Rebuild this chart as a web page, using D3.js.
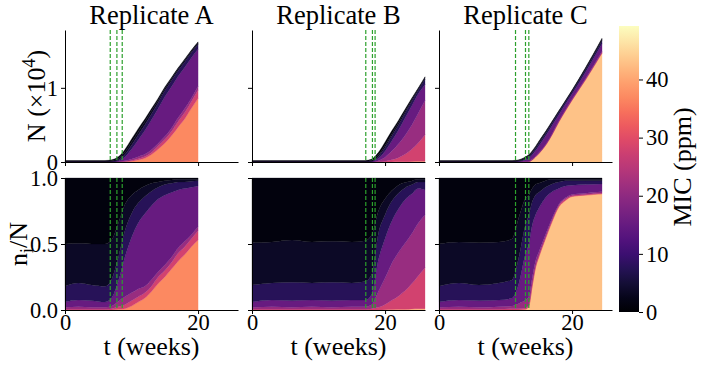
<!DOCTYPE html>
<html>
<head>
<meta charset="utf-8">
<script src="https://cdn.jsdelivr.net/npm/d3@7"></script>
<style>
  body { margin: 0; background: #fff; }
</style>
</head>
<body>
<div id="chart"></div>
<script>
// MIC level of each subpopulation, stacked bottom (high) to top (low)
const micLevels = [43, 37, 28, 21, 15, 7.5, 3.5, 1.2];
const micMax = 49.2;

// Replicate A
const weeksA = [0, 2, 4, 6, 7, 8, 9, 10, 11, 12, 13, 14, 15, 16, 17, 18, 19, 20];
const totalA = [0.02, 0.02, 0.02, 0.02, 0.03, 0.07, 0.17, 0.31, 0.45, 0.58, 0.72, 0.86, 1.01, 1.14, 1.27, 1.39, 1.51, 1.62];
const sharesA = [
  [0, 0, .005, .015, .04, .12, .32, .50],
  [0, 0, .005, .02, .05, .13, .30, .495],
  [0, 0, .005, .015, .05, .12, .31, .50],
  [0, 0, .005, .015, .04, .12, .32, .50],
  [0, 0, .01, .02, .06, .14, .30, .47],
  [0, .005, .02, .04, .15, .18, .26, .345],
  [0, .01, .03, .06, .30, .20, .20, .20],
  [0, .03, .04, .06, .42, .18, .14, .13],
  [0, .06, .04, .06, .50, .15, .10, .09],
  [0, .09, .04, .05, .55, .13, .08, .06],
  [0, .14, .04, .05, .56, .11, .06, .04],
  [0, .20, .05, .04, .55, .09, .04, .03],
  [0, .25, .05, .04, .53, .08, .03, .02],
  [0, .31, .05, .04, .49, .07, .025, .015],
  [0, .37, .06, .04, .44, .06, .02, .01],
  [0, .42, .06, .04, .40, .05, .02, .01],
  [0, .48, .06, .03, .36, .045, .015, .01],
  [0, .53, .07, .03, .31, .04, .01, .01]
];
const switchesA = [6.8, 7.8, 8.6];

// Replicate B
const weeksB = [0, 3, 6, 9, 12, 15, 17, 18, 19, 20, 21, 22, 23, 24, 25, 26];
const totalB = [0.02, 0.02, 0.02, 0.02, 0.02, 0.02, 0.02, 0.04, 0.13, 0.27, 0.42, 0.56, 0.71, 0.86, 1.0, 1.15];
const sharesB = [
  [0, 0, .005, .015, .04, .13, .32, .49],
  [0, 0, .005, .02, .05, .13, .31, .485],
  [0, 0, .005, .015, .05, .14, .32, .47],
  [0, 0, .005, .02, .05, .13, .31, .485],
  [0, 0, .005, .015, .05, .14, .31, .48],
  [0, 0, .005, .02, .05, .13, .31, .485],
  [0, 0, .005, .02, .05, .14, .31, .475],
  [0, 0, .01, .03, .08, .15, .30, .43],
  [0, 0, .02, .12, .24, .20, .17, .25],
  [.002, 0, .04, .20, .30, .18, .12, .158],
  [.003, 0, .07, .28, .32, .15, .08, .097],
  [.005, 0, .10, .33, .33, .12, .06, .055],
  [.005, 0, .14, .36, .33, .09, .04, .035],
  [.008, 0, .19, .38, .30, .07, .03, .022],
  [.01, 0, .25, .40, .26, .05, .02, .01],
  [.01, 0, .31, .40, .19, .06, .02, .01]
];
const switchesB = [17.1, 18.1, 18.5];

// Replicate C
const weeksC = [0, 3, 6, 9, 11, 12, 13, 13.5, 14, 14.5, 15, 16, 17, 18, 19, 20, 22, 24.5];
const totalC = [0.02, 0.02, 0.02, 0.02, 0.02, 0.03, 0.07, 0.10, 0.15, 0.21, 0.28, 0.41, 0.55, 0.69, 0.83, 0.97, 1.27, 1.67];
const sharesC = [
  [0, 0, .005, .015, .04, .12, .32, .50],
  [0, 0, .005, .02, .05, .13, .31, .485],
  [0, 0, .005, .015, .05, .12, .32, .49],
  [0, 0, .005, .02, .05, .13, .31, .485],
  [0, 0, .01, .02, .06, .14, .31, .46],
  [0, 0, .01, .04, .15, .20, .30, .30],
  [.005, 0, .01, .06, .35, .22, .20, .155],
  [.03, 0, .01, .06, .40, .22, .15, .13],
  [.18, 0, .01, .05, .40, .18, .10, .08],
  [.32, 0, .01, .04, .35, .15, .08, .05],
  [.40, 0, .01, .03, .33, .12, .07, .04],
  [.54, 0, .01, .02, .28, .08, .05, .02],
  [.67, 0, .01, .015, .20, .06, .035, .01],
  [.78, 0, .01, .01, .12, .05, .02, .01],
  [.83, 0, .01, .01, .09, .04, .01, .01],
  [.86, 0, .005, .01, .07, .035, .01, .01],
  [.87, 0, .005, .01, .065, .03, .01, .01],
  [.88, 0, .005, .01, .06, .025, .01, .01]
];
const switchesC = [11.5, 13.0, 13.5];

const replicates = [
  { name: "Replicate A", weeks: weeksA, total: totalA, shares: sharesA, switches: switchesA },
  { name: "Replicate B", weeks: weeksB, total: totalB, shares: sharesB, switches: switchesB },
  { name: "Replicate C", weeks: weeksC, total: totalC, shares: sharesC, switches: switchesC }
];

const xTicks = [0, 20];
const nTicks = [0, 1];
const fracTicks = [0, 0.5, 1];
const micTicks = [0, 10, 20, 30, 40];

// Pick the first serif face that is really installed (Times look-alike)
function pickFont(candidates) {
  const ctx = document.createElement("canvas").getContext("2d");
  const sample = "Replicate ABC 0123 (weeks) MIC";
  for (const f of candidates) {
    for (const base of ["monospace", "sans-serif"]) {
      ctx.font = `40px ${base}`;
      const w0 = ctx.measureText(sample).width;
      ctx.font = `40px "${f}", ${base}`;
      if (Math.abs(ctx.measureText(sample).width - w0) > 0.5) return `"${f}", serif`;
    }
  }
  return "serif";
}
const fontFamily = pickFont(["Liberation Serif", "Times New Roman", "Tinos", "Nimbus Roman",
  "Nimbus Roman No9 L", "FreeSerif", "DejaVu Serif", "Noto Serif"]);

// Layout
const width = 702, height = 365;
const panelLeft = [65, 252, 439];
const panelW = 173;
const topRange = [162, 30];
const botRange = [310, 178];
const tickFont = 22.5, labelFont = 26, titleFont = 26.5;

const svg = d3.select("#chart").append("svg")
  .attr("width", width).attr("height", height)
  .style("font-family", fontFamily);

const x = d3.scaleLinear().domain([0, 26]).range([0, panelW]);
const yN = d3.scaleLinear().domain([0, 1.78]).range(topRange);
const yF = d3.scaleLinear().domain([0, 1]).range(botRange);
const color = d3.scaleSequential(d3.interpolateMagma).domain([0, micMax]);

const keys = micLevels.map((m, i) => i);

function styleAxis(g) {
  g.attr("font-family", null).attr("font-size", null);
  g.select(".domain").attr("stroke", "#000").attr("stroke-width", 1);
  g.selectAll(".tick line").attr("stroke", "#000").attr("stroke-width", 1);
  g.selectAll(".tick text").style("font-size", tickFont + "px")
    .style("font-family", fontFamily).attr("fill", "#000");
}

replicates.forEach((rep, p) => {
  const g = svg.append("g").attr("transform", `translate(${panelLeft[p]},0)`);

  // rows of records for stacking
  const fracRows = rep.weeks.map((w, j) => {
    const r = { week: w };
    keys.forEach(k => r[k] = rep.shares[j][k]);
    return r;
  });
  const countRows = rep.weeks.map((w, j) => {
    const r = { week: w };
    keys.forEach(k => r[k] = rep.shares[j][k] * rep.total[j]);
    return r;
  });

  const stack = d3.stack().keys(keys);

  const areaN = d3.area().curve(d3.curveMonotoneX)
    .x(d => x(d.data.week)).y0(d => yN(d[0])).y1(d => yN(d[1]));
  const areaF = d3.area().curve(d3.curveMonotoneX)
    .x(d => x(d.data.week)).y0(d => yF(d[0])).y1(d => yF(d[1]));

  g.append("g").selectAll("path")
    .data(stack(countRows))
    .join("path")
    .attr("fill", d => color(micLevels[d.key]))
    .attr("stroke", d => color(micLevels[d.key]))
    .attr("stroke-width", 0.3)
    .attr("d", areaN);

  g.append("g").selectAll("path")
    .data(stack(fracRows))
    .join("path")
    .attr("fill", d => color(micLevels[d.key]))
    .attr("stroke", d => color(micLevels[d.key]))
    .attr("stroke-width", 0.3)
    .attr("d", areaF);

  // switch lines
  [[topRange[1], topRange[0]], [botRange[1], botRange[0]]].forEach(([y0, y1]) => {
    g.append("g").selectAll("line")
      .data(rep.switches)
      .join("line")
      .attr("x1", d => x(d)).attr("x2", d => x(d))
      .attr("y1", y0).attr("y2", y1)
      .attr("stroke", "#2ca02c")
      .attr("stroke-width", 1.2)
      .attr("stroke-dasharray", "4,2");
  });

  // axes: top row
  const axTopX = g.append("g").attr("transform", `translate(0,${topRange[0]})`)
    .call(d3.axisBottom(x).tickValues(xTicks).tickSize(4).tickSizeOuter(0).tickFormat(""));
  styleAxis(axTopX);
  const axTopY = g.append("g")
    .call(d3.axisLeft(yN).tickValues(nTicks).tickSize(4).tickSizeOuter(0).tickPadding(3)
      .tickFormat(p === 0 ? d3.format("d") : ""));
  styleAxis(axTopY);

  // axes: bottom row
  const axBotX = g.append("g").attr("transform", `translate(0,${botRange[0]})`)
    .call(d3.axisBottom(x).tickValues(xTicks).tickSize(4).tickSizeOuter(0).tickPadding(0));
  styleAxis(axBotX);
  const axBotY = g.append("g")
    .call(d3.axisLeft(yF).tickValues(fracTicks).tickSize(4).tickSizeOuter(0).tickPadding(3)
      .tickFormat(p === 0 ? d3.format(".1f") : ""));
  styleAxis(axBotY);

  // titles
  g.append("text")
    .attr("x", panelW / 2).attr("y", 24)
    .attr("text-anchor", "middle")
    .style("font-size", titleFont + "px")
    .text(rep.name);

  g.append("text")
    .attr("x", panelW / 2).attr("y", 355)
    .attr("text-anchor", "middle")
    .style("font-size", labelFont + "px")
    .text("t (weeks)");
});

// y labels
const nLabel = svg.append("text")
  .attr("transform", `translate(45,${(topRange[0] + topRange[1]) / 2}) rotate(-90)`)
  .attr("text-anchor", "middle")
  .style("font-size", labelFont + "px");
nLabel.append("tspan").text("N (×10");
nLabel.append("tspan").attr("dy", -10).style("font-size", "18px").text("4");
nLabel.append("tspan").attr("dy", 10).text(")");

const fLabel = svg.append("text")
  .attr("transform", `translate(27,${(botRange[0] + botRange[1]) / 2}) rotate(-90)`)
  .attr("text-anchor", "middle")
  .style("font-size", labelFont + "px");
fLabel.append("tspan").text("n");
fLabel.append("tspan").attr("dy", 6).style("font-size", "18px").text("i");
fLabel.append("tspan").attr("dy", -6).text("/N");

// colorbar
const cbX = 619, cbW = 20, cbTop = 26, cbBot = 312;
const yC = d3.scaleLinear().domain([0, micMax]).range([cbBot, cbTop]);
const defs = svg.append("defs");
const grad = defs.append("linearGradient").attr("id", "cbGrad")
  .attr("x1", 0).attr("y1", 1).attr("x2", 0).attr("y2", 0);
grad.selectAll("stop")
  .data(d3.range(0, 1.0001, 0.05))
  .join("stop")
  .attr("offset", d => d)
  .attr("stop-color", d => d3.interpolateMagma(d));
svg.append("rect")
  .attr("x", cbX).attr("y", cbTop).attr("width", cbW).attr("height", cbBot - cbTop)
  .attr("fill", "url(#cbGrad)");
const axC = svg.append("g").attr("transform", `translate(${cbX + cbW},0)`)
  .call(d3.axisRight(yC).tickValues(micTicks).tickSize(4).tickPadding(3).tickSizeOuter(0));
axC.select(".domain").remove();
styleAxis(axC);

svg.append("text")
  .attr("transform", `translate(691,${(cbTop + cbBot) / 2 - 2}) rotate(-90)`)
  .attr("text-anchor", "middle")
  .style("font-size", labelFont + "px")
  .text("MIC (ppm)");
</script>
</body>
</html>
